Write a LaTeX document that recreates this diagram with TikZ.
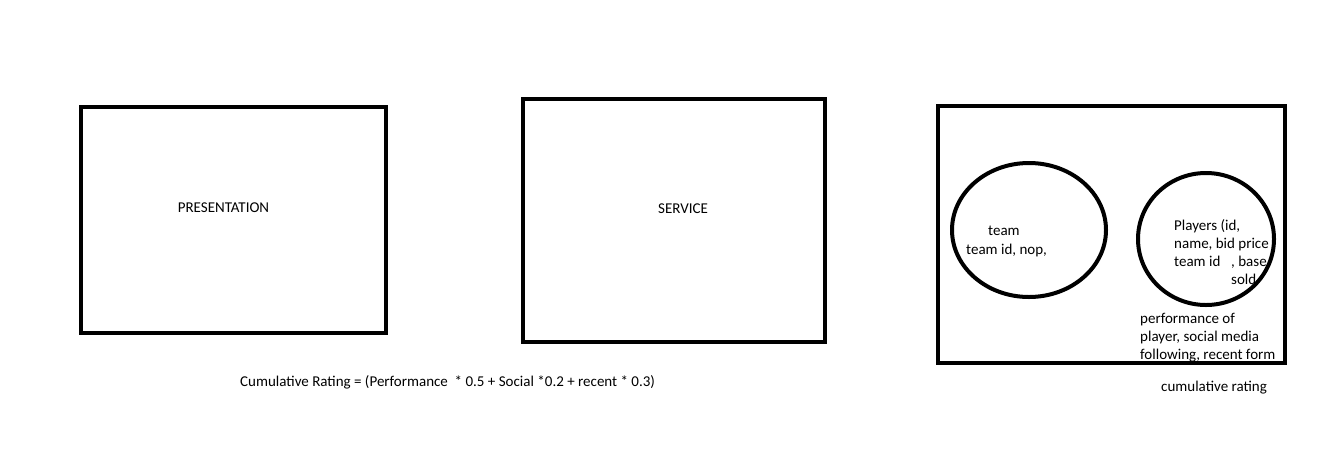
\documentclass[tikz,border=0pt]{standalone}
\usepackage{fontspec}
\setmainfont{Carlito}
\usetikzlibrary{shapes.geometric}
\begin{document}
\begin{tikzpicture}[x=1pt,y=-1pt,
  box/.style={draw,line width=4pt,rectangle,inner sep=0pt},
  oval/.style={draw,line width=4pt,ellipse,inner sep=0pt},
  txt/.style={inner sep=0pt,font=\fontsize{15}{18}\selectfont,align=left}]
\useasboundingbox (0,0) rectangle (1344,451);
\fill[white] (0,0) rectangle (1344,451);
% boxes
\node[box,minimum width=305pt,minimum height=226pt] (pres) at (233.5,220) {};
\node[box,minimum width=302pt,minimum height=243pt] (serv) at (674,220.5) {};
\node[box,minimum width=347pt,minimum height=257pt] (data) at (1111.5,234.5) {};
% labels
\node[txt] (presl) at (223.5,208) {PRESENTATION};
\node[txt] (servl) at (683,209) {SERVICE};
\node[txt,anchor=west] (teaml) at (988,231) {team};
\node[txt,anchor=west] (teamd) at (966,250) {team id, nop,};
\node[txt,anchor=north west] (playl) at (1174,219.5) {Players (id,\\name, bid price\\team id};
\node[txt,anchor=north west] (base) at (1231,255.5) {, base\\sold};
\node[txt,anchor=north west] (perf) at (1140,313.5) {performance of\\player, social media\\following, recent form};
\node[txt,anchor=west] (cum) at (1161,388) {cumulative rating};
\node[txt,anchor=west] (form) at (240,382) {Cumulative Rating = (Performance\ \ * 0.5 + Social *0.2 + recent * 0.3)};
% ellipses
\node[oval,minimum width=154pt,minimum height=134pt] (team) at (1029,230) {};
\node[oval,minimum width=136pt,minimum height=132pt] (players) at (1206,239) {};
\end{tikzpicture}
\end{document}
